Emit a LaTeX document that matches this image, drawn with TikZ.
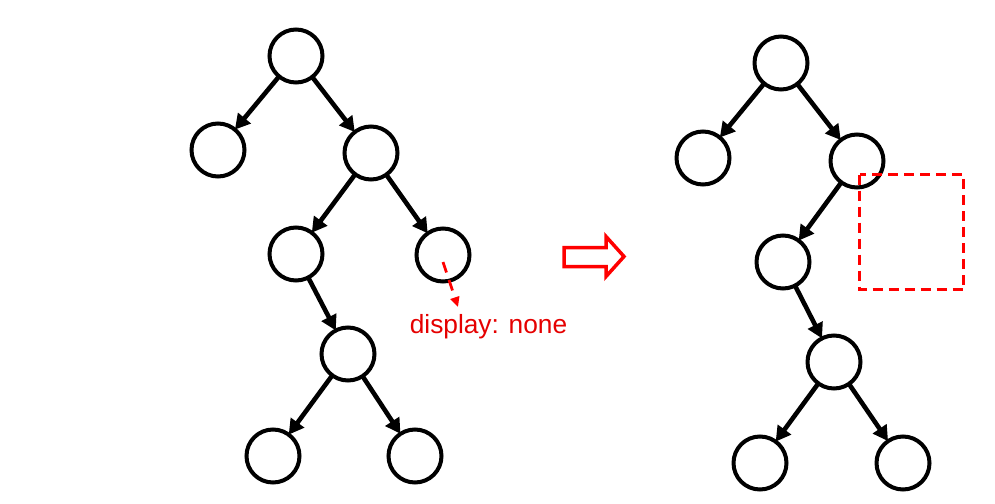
\documentclass[tikz,border=0pt]{standalone}
\usepackage{fontspec}
\setmainfont{Liberation Sans}
\usetikzlibrary{arrows.meta}
\tikzset{
  treenode/.style={circle,draw=black,line width=4pt,minimum size=53pt,inner sep=0pt,outer sep=0pt},
  treeedge/.style={line width=4.6pt,-{Triangle[length=15pt,width=16pt]}},
  redbox/.style={draw=red,line width=3pt,dash pattern=on 10pt off 6pt},
  redarrow/.style={draw=red,line width=2.8pt,dash pattern=on 11pt off 8pt,-{Triangle[length=10pt,width=9pt]}},
  bigarrow/.style={draw=red,line width=3.5pt,line join=miter},
  redlabel/.style={text=red!90!black,font=\fontsize{26.3}{29}\selectfont,inner sep=0pt,anchor=base}
}
\begin{document}
\begin{tikzpicture}[x=1pt,y=-1pt]
\useasboundingbox (0,0) rectangle (995,503);
% left tree
\node[treenode] (a1) at (296,56) {};
\node[treenode] (a2) at (218,150) {};
\node[treenode] (a3) at (371,153) {};
\node[treenode] (a4) at (296,254) {};
\node[treenode] (a5) at (443,255) {};
\node[treenode] (a6) at (348,354) {};
\node[treenode] (a7) at (273,456) {};
\node[treenode] (a8) at (415,456) {};
\draw[treeedge] (a1) -- (a2);
\draw[treeedge] (a1) -- (a3);
\draw[treeedge] (a3) -- (a4);
\draw[treeedge] (a3) -- (a5);
\draw[treeedge] (a4) -- (a6);
\draw[treeedge] (a6) -- (a7);
\draw[treeedge] (a6) -- (a8);
% display none label
\coordinate (ds) at (443,262);
\coordinate (de) at (458,307);
\draw[redarrow] (ds) -- (de);
\node[redlabel] (lbl) at (488.5,333) {display: none};
% big arrow
\draw[bigarrow] (564,247.5) -- (606,247.5) -- (606,236.5) -- (624,256.5) -- (606,276.5) -- (606,266.5) -- (564,266.5) -- cycle;
% right tree
\node[treenode] (b1) at (781,63) {};
\node[treenode] (b2) at (703,158) {};
\node[treenode] (b3) at (857,161) {};
\node[treenode] (b4) at (783,262) {};
\node[treenode] (b5) at (834,362) {};
\node[treenode] (b6) at (760,463) {};
\node[treenode] (b7) at (903,463) {};
\draw[treeedge] (b1) -- (b2);
\draw[treeedge] (b1) -- (b3);
\draw[treeedge] (b3) -- (b4);
\draw[treeedge] (b4) -- (b5);
\draw[treeedge] (b5) -- (b6);
\draw[treeedge] (b5) -- (b7);
% dashed box
\draw[redbox] (859.5,174.5) rectangle (963.5,289.5);
\end{tikzpicture}
\end{document}
